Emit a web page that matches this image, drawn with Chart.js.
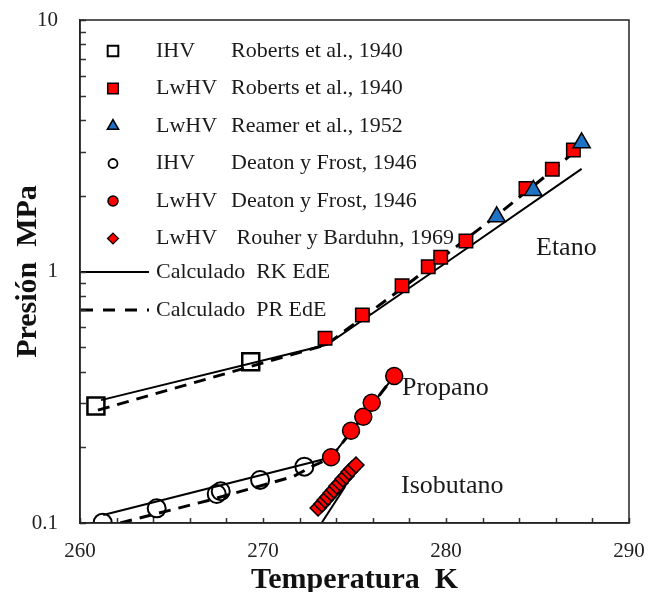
<!DOCTYPE html>
<html>
<head>
<meta charset="utf-8">
<script src="https://cdn.jsdelivr.net/npm/chart.js@4.4.1/dist/chart.umd.min.js"></script>
<style>
  html, body { margin: 0; padding: 0; background: #fff; }
  #wrap { width: 648px; height: 592px; }
</style>
</head>
<body>
<div id="wrap"><canvas id="chart" width="648" height="592"></canvas></div>
<script>
// Etano
const etanoIhvT = [260.87, 269.33];
const etanoIhvP = [0.292, 0.438];
const etanoLwT = [273.39, 275.43, 277.60, 279.03, 279.71, 281.09, 284.37, 285.81, 286.96];
const etanoLwP = [0.543, 0.671, 0.878, 1.045, 1.139, 1.322, 2.14, 2.55, 3.04];
const reamerT = [282.77, 284.77, 287.41];
const reamerP = [1.65, 2.10, 3.25];
// Propano
const propIhvT = [261.24, 264.19, 267.47, 267.69, 269.84, 272.26];
const propIhvP = [0.1003, 0.1144, 0.1304, 0.1337, 0.1483, 0.1675];
const propLwT = [273.72, 274.81, 275.48, 275.94, 277.17];
const propLwP = [0.1825, 0.2328, 0.2647, 0.3009, 0.384];
// Isobutano
const isoT = [273.01, 273.22, 273.39, 273.55, 273.72, 273.88, 274.04, 274.21, 274.37, 274.54, 274.70, 274.86, 275.08];
const isoP = [0.1147, 0.1190, 0.1234, 0.1268, 0.1316, 0.1353, 0.1403, 0.1442, 0.1496, 0.1538, 0.1595, 0.1640, 0.1701];
// calculated curves
const rkEtanoT = [261.15, 273.48, 280.0, 287.41];
const rkEtanoP = [0.308, 0.511, 1.083, 2.56];
const prEtanoT = [260.98, 273.45, 278.20, 282.73, 285.85, 287.43];
const prEtanoP = [0.281, 0.511, 0.925, 1.662, 2.53, 3.18];
const rkPropT = [261.27, 272.73, 273.72, 277.17];
const rkPropP = [0.1076, 0.1748, 0.1825, 0.384];
const prPropT = [262.2, 267.10, 271.64, 272.73, 273.72, 277.15];
const prPropP = [0.1, 0.1234, 0.1528, 0.1685, 0.182, 0.382];
const rkIsoT = [273.2, 274.5];
const rkIsoP = [0.1, 0.14];

const xTickValues = [260, 262, 264, 266, 268, 270, 272, 274, 276, 278, 280, 282, 284, 286, 288, 290];
const xTickLabels = ['260', '270', '280', '290'];
const yTickValues = [0.1, 0.2, 0.3, 0.4, 0.5, 0.6, 0.7, 0.8, 0.9, 1, 2, 3, 4, 5, 6, 7, 8, 9, 10];
const yTickLabels = ['0.1', '1', '10'];

const legendRows = [
  ['IHV', 'Roberts et al., 1940'],
  ['LwHV', 'Roberts et al., 1940'],
  ['LwHV', 'Reamer et al., 1952'],
  ['IHV', 'Deaton y Frost, 1946'],
  ['LwHV', 'Deaton y Frost, 1946'],
  ['LwHV', ' Rouher y Barduhn, 1969'],
];
const lineLabels = ['Calculado  RK EdE', 'Calculado  PR EdE'];
const curveNames = ['Etano', 'Propano', 'Isobutano'];

const SERIF = '"Liberation Serif", "Times New Roman", serif';
const RED = '#ff0000';
const BLUE = '#1f72c4';

function pts(xs, ys) {
  return xs.map((x, i) => ({ x, y: ys[i] }));
}

function lineSet(label, xs, ys, dashed) {
  return {
    label, data: pts(xs, ys), showLine: true, pointRadius: 0,
    borderColor: '#000', borderWidth: dashed ? 3 : 2,
    borderDash: dashed ? [12, 8] : [], order: 5, clip: 0,
  };
}

function markerSet(label, xs, ys, style, radius, fill, bw, order) {
  return {
    label, data: pts(xs, ys), showLine: false,
    pointStyle: style, pointRadius: radius, pointHoverRadius: radius,
    pointBackgroundColor: fill, pointBorderColor: '#000', pointBorderWidth: bw,
    order: order,
  };
}

// markers used by the in-plot legend, same order as legendRows
const legendMarkers = [
  { pointStyle: 'rect', radius: 7.5, backgroundColor: '#fff', borderWidth: 2 },
  { pointStyle: 'rect', radius: 7.5, backgroundColor: RED, borderWidth: 1.5 },
  { pointStyle: 'triangle', radius: 6.5, backgroundColor: BLUE, borderWidth: 1.5 },
  { pointStyle: 'circle', radius: 4.5, backgroundColor: '#fff', borderWidth: 1.8 },
  { pointStyle: 'circle', radius: 5, backgroundColor: RED, borderWidth: 1.5 },
  { pointStyle: 'rectRot', radius: 5.5, backgroundColor: RED, borderWidth: 1.2 },
];

const framePlugin = {
  id: 'frame',
  beforeDatasetsDraw(chart) {
    const { ctx, chartArea: a } = chart;
    ctx.save();
    // legend inside the plot
    ctx.font = '22px ' + SERIF;
    ctx.textBaseline = 'middle';
    legendRows.forEach((row, i) => {
      const ly = 51 + i * 37.5;
      const m = legendMarkers[i];
      ctx.strokeStyle = '#000';
      ctx.fillStyle = m.backgroundColor;
      ctx.lineWidth = m.borderWidth;
      Chart.helpers.drawPoint(ctx, { pointStyle: m.pointStyle, radius: m.radius, rotation: 0, borderWidth: m.borderWidth }, 113, ly);
      ctx.fillStyle = '#1a1a1a';
      ctx.fillText(row[0], 156, ly);
      ctx.fillText(row[1], 231, ly);
    });
    lineLabels.forEach((txt, i) => {
      const ly = i === 0 ? 272 : 310;
      ctx.beginPath();
      ctx.strokeStyle = '#000';
      ctx.lineWidth = i === 0 ? 2 : 3;
      ctx.setLineDash(i === 0 ? [] : [12, 10]);
      ctx.moveTo(a.left + 1, ly);
      ctx.lineTo(149, ly);
      ctx.stroke();
      ctx.setLineDash([]);
      ctx.fillStyle = '#1a1a1a';
      ctx.fillText(txt, 156, ly);
    });
    // curve names
    ctx.font = '26px ' + SERIF;
    ctx.fillText(curveNames[0], 536, 248);
    ctx.fillText(curveNames[1], 402, 388);
    ctx.fillText(curveNames[2], 401, 486);
    ctx.restore();
  },
  afterDraw(chart) {
    const { ctx, chartArea: a, scales: { x, y } } = chart;
    ctx.save();
    ctx.strokeStyle = '#333';
    ctx.lineWidth = 1.5;
    ctx.beginPath();
    xTickValues.forEach((v) => {
      const px = Math.round(x.getPixelForValue(v)) + 0.5;
      ctx.moveTo(px, a.bottom);
      ctx.lineTo(px, a.bottom - 5);
    });
    yTickValues.forEach((v) => {
      const py = Math.round(y.getPixelForValue(v)) + 0.5;
      ctx.moveTo(a.left, py);
      ctx.lineTo(a.left + 6, py);
    });
    ctx.stroke();
    ctx.strokeStyle = '#222';
    ctx.strokeRect(a.left, a.top, a.right - a.left, a.bottom - a.top);
    ctx.restore();
  },
};

new Chart(document.getElementById('chart'), {
  type: 'scatter',
  data: {
    datasets: [
      lineSet('RK Etano', rkEtanoT, rkEtanoP, false),
      lineSet('PR Etano', prEtanoT, prEtanoP, true),
      lineSet('RK Propano', rkPropT, rkPropP, false),
      lineSet('PR Propano', prPropT, prPropP, true),
      lineSet('RK Isobutano', rkIsoT, rkIsoP, false),
      markerSet('IHV Roberts et al., 1940', etanoIhvT, etanoIhvP, 'rect', 12, 'rgba(255,255,255,0)', 2.5, 2),
      markerSet('LwHV Roberts et al., 1940', etanoLwT, etanoLwP, 'rect', 9.5, RED, 1.5, 2),
      markerSet('LwHV Reamer et al., 1952', reamerT, reamerP, 'triangle', 10, BLUE, 1.5, 1),
      markerSet('IHV Deaton y Frost, 1946', propIhvT, propIhvP, 'circle', 9, 'rgba(255,255,255,0)', 2, 2),
      markerSet('LwHV Deaton y Frost, 1946', propLwT, propLwP, 'circle', 8.5, RED, 1.5, 2),
      markerSet('LwHV Rouher y Barduhn, 1969', isoT, isoP, 'rectRot', 8, RED, 1.5, 2),
    ],
  },
  options: {
    responsive: false,
    animation: false,
    events: [],
    layout: { padding: { top: 20, right: 19, left: 0, bottom: 0 } },
    plugins: { legend: { display: false }, tooltip: { enabled: false } },
    scales: {
      x: {
        type: 'linear', min: 260, max: 290,
        afterBuildTicks: (s) => { s.ticks = xTickValues.map((value) => ({ value })); },
        afterFit: (s) => { s.height = 69; s.paddingLeft = 0; s.paddingRight = 0; },
        grid: { display: false, drawTicks: false },
        border: { display: true, color: '#333', width: 1.5 },
        ticks: {
          autoSkip: false, maxRotation: 0, padding: 16, color: '#222',
          font: { family: SERIF, size: 21 },
          callback: (v) => (xTickLabels.includes(String(v)) ? String(v) : ''),
        },
        title: {
          display: true, text: 'Temperatura  K', color: '#111',
          font: { family: SERIF, size: 30, weight: 'bold', lineHeight: 0.8 },
          padding: 0,
        },
      },
      y: {
        type: 'logarithmic', min: 0.1, max: 10,
        afterBuildTicks: (s) => { s.ticks = yTickValues.map((value) => ({ value })); },
        afterFit: (s) => { s.width = 80; s.paddingTop = 0; s.paddingBottom = 0; },
        grid: { display: false, drawTicks: false },
        border: { display: true, color: '#333', width: 1.5 },
        ticks: {
          autoSkip: false, padding: 22, color: '#222',
          font: { family: SERIF, size: 21 },
          callback: (v) => {
            const t = String(Math.round(v * 10) / 10);
            return yTickLabels.includes(t) ? t : '';
          },
        },
        title: {
          display: true, text: 'Presión  MPa', color: '#111',
          font: { family: SERIF, size: 30, weight: 'bold', lineHeight: 1 },
          padding: { top: 13 },
        },
      },
    },
  },
  plugins: [framePlugin],
});
</script>
</body>
</html>
